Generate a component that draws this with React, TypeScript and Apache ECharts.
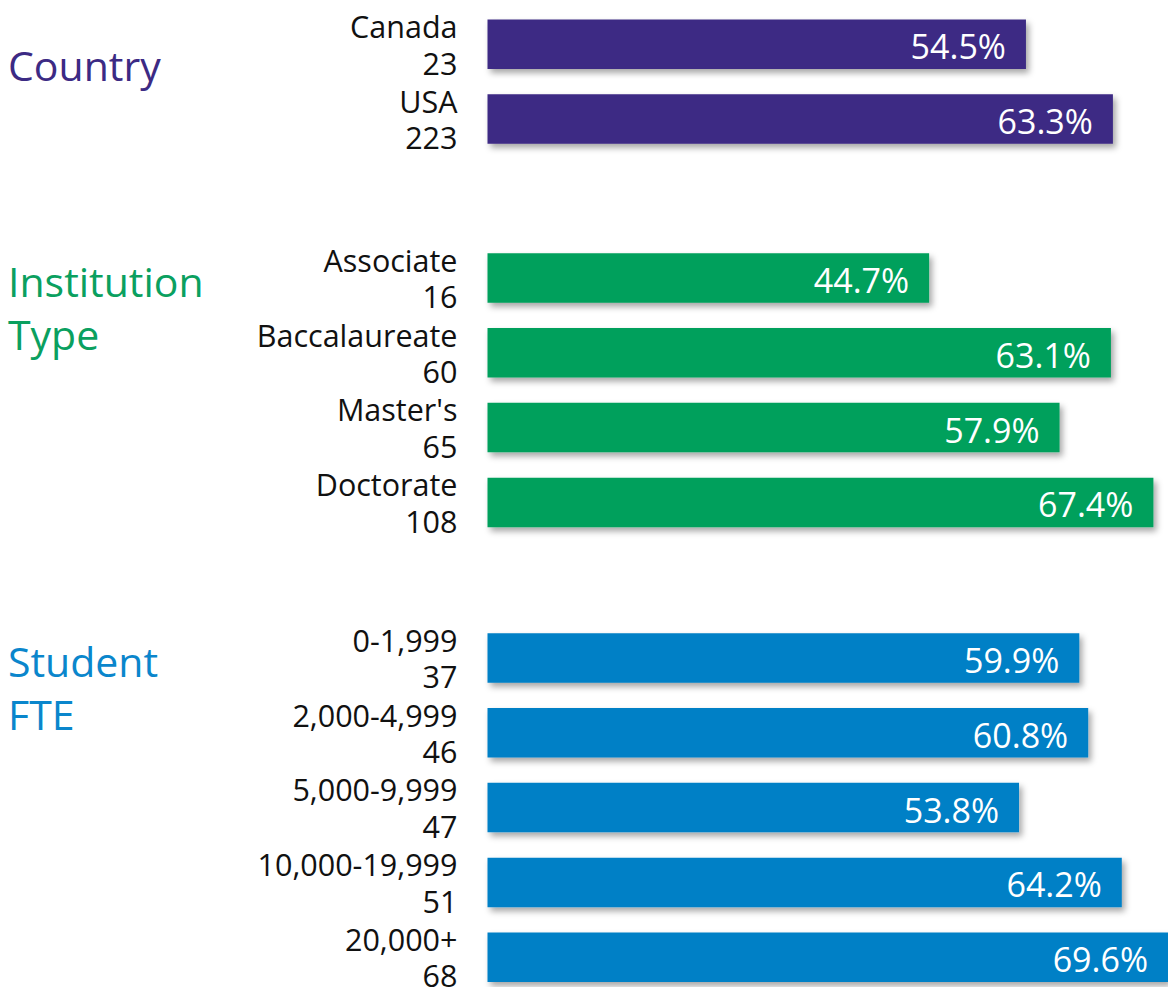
import React, { useEffect, useRef } from "react";
import * as echarts from "echarts";

const countryCats = ["Canada", "USA"];
const countryN = [23, 223];
const countryVals = [54.5, 63.3];

const instCats = ["Associate", "Baccalaureate", "Master's", "Doctorate"];
const instN = [16, 60, 65, 108];
const instVals = [44.7, 63.1, 57.9, 67.4];

const fteCats = ["0-1,999", "2,000-4,999", "5,000-9,999", "10,000-19,999", "20,000+"];
const fteN = [37, 46, 47, 51, 68];
const fteVals = [59.9, 60.8, 53.8, 64.2, 69.6];

const sectionTitles = ["Country", "Institution\nType", "Student\nFTE"];

const PURPLE = "#3c2a84";
const GREEN = "#00a05c";
const BLUE = "#0580c6";
const FONT = "'Open Sans', 'Noto Sans', sans-serif";

export default function App() {
  const ref = useRef<HTMLDivElement>(null);
  useEffect(() => {
    if (!ref.current) return;
    const chart = echarts.init(ref.current, undefined, { renderer: "svg" });
    const groups = [
      { cats: countryCats, n: countryN, vals: countryVals, color: PURPLE, top: 6.9, slots: 2 },
      { cats: instCats, n: instN, vals: instVals, color: GREEN, top: 240.6, slots: 4 },
      { cats: fteCats, n: fteN, vals: fteVals, color: BLUE, top: 620.6, slots: 5 },
    ];
    const slot = 74.8;
    const gridLeft = 487.5;
    const pxPerUnit = 9.88;
    const xMax = (1168 - gridLeft) / pxPerUnit;
    const grids = groups.map((g) => ({ left: gridLeft, right: 0, top: g.top, height: slot * g.slots }));
    const xAxes = groups.map((_, i) => ({
      type: "value",
      gridIndex: i,
      min: 0,
      max: xMax,
      show: false,
    }));
    const yAxes = groups.map((g, i) => ({
      type: "category",
      gridIndex: i,
      inverse: true,
      data: g.cats,
      axisLine: { show: false },
      axisTick: { show: false },
      splitLine: { show: false },
      axisLabel: {
        interval: 0,
        showMinLabel: true,
        showMaxLabel: true,
        hideOverlap: false,
        margin: 30,
        fontSize: 30.5,
        lineHeight: 36.5,
        color: "#111",
        fontFamily: FONT,
        align: "right",
        formatter: (v: string, idx: number) => `${v}\n${g.n[idx]}`,
      },
    }));
    const series = groups.map((g, i) => ({
      type: "bar",
      xAxisIndex: i,
      yAxisIndex: i,
      data: g.vals,
      barWidth: 49.5,
      itemStyle: {
        color: g.color,
        shadowColor: "rgba(0,0,0,0.35)",
        shadowBlur: 6,
        shadowOffsetX: 3,
        shadowOffsetY: 4,
      },
      label: {
        show: true,
        position: "insideRight",
        distance: 20,
        color: "#fff",
        fontSize: 34,
        fontFamily: FONT,
        offset: [0, 2],
        formatter: (p: any) => `${Number(p.value).toFixed(1)}%`,
      },
    }));
    const titleColors = [PURPLE, "#0aa05f", "#0a86cc"];
    const titleY = [64.5, 307.5, 687.5];
    chart.setOption({
      animation: false,
      grid: grids,
      xAxis: xAxes,
      yAxis: yAxes,
      series,
      graphic: sectionTitles.map((t, i) => ({
        type: "text",
        left: 8,
        top: titleY[i] - (t.includes("\n") ? 53 : 26.5),
        style: {
          text: t,
          fill: titleColors[i],
          fontSize: 41,
          lineHeight: 53,
          fontFamily: FONT,
        },
      })),
    });
    return () => chart.dispose();
  }, []);
  return (
    <div
      ref={ref}
      style={{ position: "fixed", left: 0, top: 0, width: 1168, height: 1000, background: "#fff" }}
    />
  );
}
